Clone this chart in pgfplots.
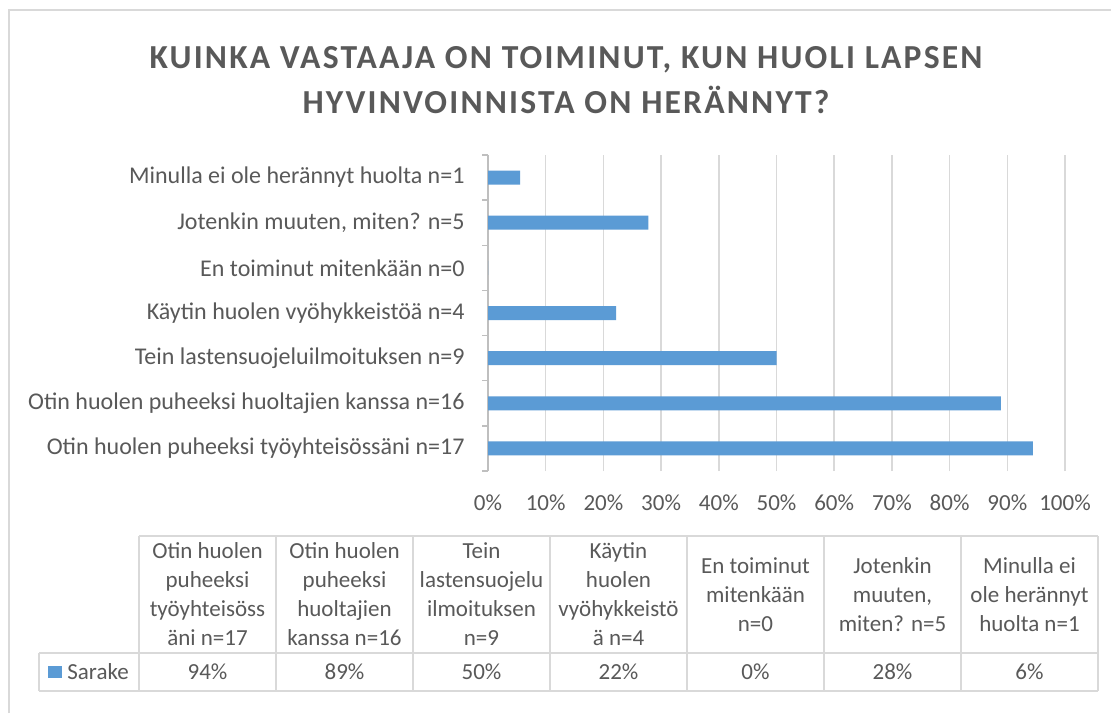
\documentclass[border=0pt]{standalone}
\usepackage{fontspec}
\setmainfont{Carlito}
\newfontfamily\titlefont{Carlito}[LetterSpace=6.5]
\usepackage{pgfplots}
\pgfplotsset{compat=1.18}
\definecolor{txt}{HTML}{595959}
\definecolor{barc}{HTML}{5B9BD5}
\definecolor{gridc}{HTML}{D9D9D9}
\definecolor{axc}{HTML}{BFBFBF}
\newcommand{\lf}{\fontsize{11.5}{14.5}\selectfont}
\newcommand{\af}{\fontsize{12}{14.5}\selectfont}
\begin{document}
\begin{tikzpicture}[x=0.5pt,y=-0.5pt]
\path[use as bounding box, fill=white] (0,0) rectangle (1111,713);
\draw[gridc, line width=0.75pt] (9,713) -- (9,10) -- (1111,10);
\node[text=txt, font=\titlefont\fontsize{16.8}{22.5}\selectfont\bfseries, align=center] at (566,80.5) {KUINKA VASTAAJA ON TOIMINUT, KUN HUOLI LAPSEN\\HYVINVOINNISTA ON HERÄNNYT?};
\begin{scope}[x=1pt,y=1pt]
\begin{axis}[at={(244pt,-235.5pt)}, anchor=south west,
  width=288.5pt, height=158pt, scale only axis,
  xbar, bar width=7pt,
  xmin=0, xmax=100, ymin=-0.5, ymax=6.5,
  axis x line*=bottom, axis y line*=left,
  x axis line style={draw=none},
  y axis line style={draw=axc, line width=0.75pt},
  xtick={0,10,...,100},
  xticklabels={0\%,10\%,20\%,30\%,40\%,50\%,60\%,70\%,80\%,90\%,100\%},
  ytick={0,...,6},
  yticklabels={Otin huolen puheeksi työyhteisössäni n=17, Otin huolen puheeksi huoltajien kanssa n=16, Tein lastensuojeluilmoituksen n=9, Käytin huolen vyöhykkeistöä n=4, En toiminut mitenkään n=0, {Jotenkin muuten, miten? n=5}, Minulla ei ole herännyt huolta n=1},
  minor ytick={-0.5,0.5,...,6.5},
  major tick length=0pt, minor tick length=3pt, tick align=outside,
  tick style={draw=axc, line width=0.75pt},
  xmajorgrids, grid style={draw=gridc, line width=0.75pt},
  ticklabel style={font=\lf, text=txt, inner sep=0pt},
  yticklabel style={font=\af, anchor=east, xshift=-11.5pt},
  xticklabel style={anchor=north, yshift=-11.5pt},
]
\addplot[fill=barc, draw=none] coordinates {(94.44,0) (88.89,1) (50,2) (22.22,3) (0,4) (27.78,5) (5.56,6)};
\end{axis}
\end{scope}
% data table
\draw[gridc, line width=0.75pt] (139,536) -- (1098,536) (39,653) -- (1098,653) (39,691) -- (1098,691) (39,653) -- (39,691);
\foreach \x in {139,276,413,550,687,824,961,1098} {\draw[gridc, line width=0.75pt] (\x,536) -- (\x,691);}
\begin{scope}[every node/.style={font=\lf, text=txt, align=center, inner sep=0pt}]
\node at (207.5,594.5) {Otin huolen\\puheeksi\\työyhteisöss\\äni n=17};
\node at (344.5,594.5) {Otin huolen\\puheeksi\\huoltajien\\kanssa n=16};
\node at (481.5,594.5) {Tein\\lastensuojelu\\ilmoituksen\\n=9};
\node at (618.5,594.5) {Käytin\\huolen\\vyöhykkeistö\\ä n=4};
\node at (755.5,594.5) {En toiminut\\mitenkään\\n=0};
\node at (892.5,594.5) {Jotenkin\\muuten,\\miten? n=5};
\node at (1029.5,594.5) {Minulla ei\\ole herännyt\\huolta n=1};
\node at (207.5,672) {94\%};
\node at (344.5,672) {89\%};
\node at (481.5,672) {50\%};
\node at (618.5,672) {22\%};
\node at (755.5,672) {0\%};
\node at (892.5,672) {28\%};
\node at (1029.5,672) {6\%};
\node[anchor=west] at (67,672) {Sarake};
\end{scope}
\fill[barc] (48,666) rectangle (62,678);
\end{tikzpicture}
\end{document}
